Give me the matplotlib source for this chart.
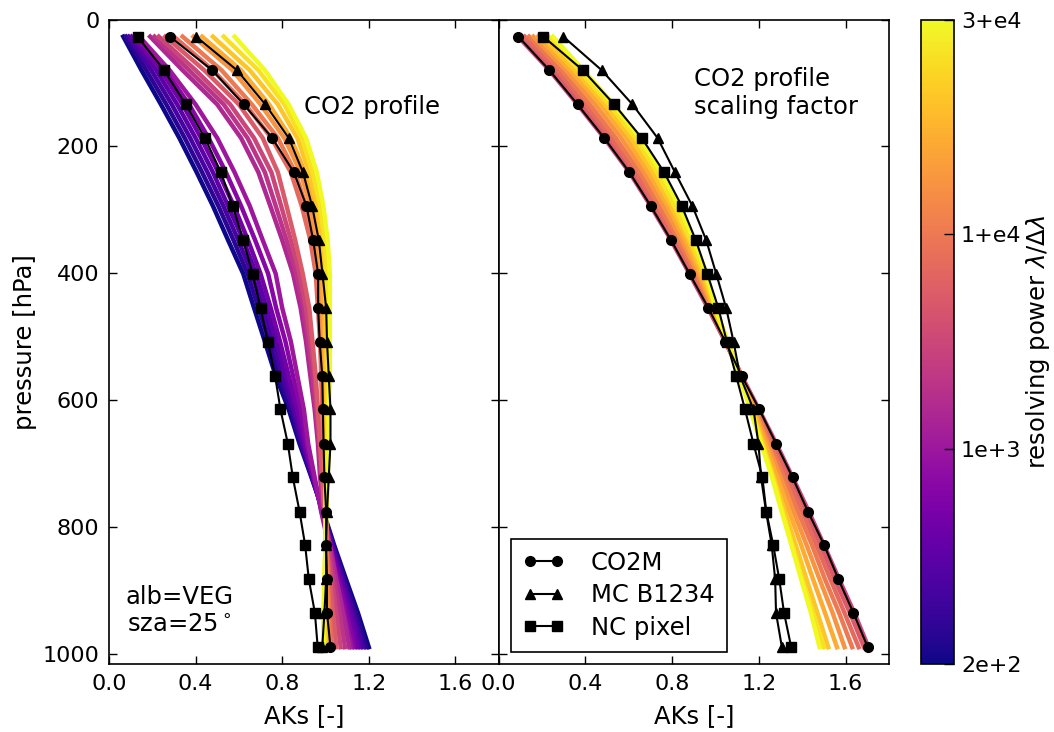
import numpy as np
import matplotlib
matplotlib.use("Agg")
import matplotlib.pyplot as plt
from matplotlib import cm, colors

# pressure levels [hPa] (layer centres)
pressure = [27, 80, 134, 187, 241, 294, 348, 401, 455, 508, 562, 615, 669, 722, 776, 829, 883, 936, 990]

# --- left panel: CO2 profile AKs for each resolving power ---
res_left = [200, 260, 340, 440, 580, 760, 1000, 1500, 2000, 3000, 5000,
            7000, 10000, 13000, 16000, 20000, 25000, 30000]
aks_left = [
    [0.066, 0.15, 0.24, 0.325, 0.405, 0.48, 0.55, 0.62, 0.67, 0.72, 0.77, 0.83, 0.88, 0.935, 0.99, 1.04, 1.095, 1.15, 1.20],
    [0.078, 0.172, 0.265, 0.35, 0.43, 0.505, 0.575, 0.64, 0.69, 0.74, 0.785, 0.84, 0.886, 0.937, 0.988, 1.036, 1.088, 1.14, 1.187],
    [0.09, 0.195, 0.29, 0.375, 0.455, 0.528, 0.597, 0.66, 0.71, 0.757, 0.80, 0.85, 0.892, 0.94, 0.986, 1.032, 1.08, 1.13, 1.173],
    [0.103, 0.218, 0.315, 0.40, 0.48, 0.55, 0.62, 0.68, 0.728, 0.773, 0.815, 0.86, 0.898, 0.942, 0.985, 1.028, 1.073, 1.12, 1.16],
    [0.115, 0.24, 0.34, 0.425, 0.505, 0.577, 0.642, 0.70, 0.747, 0.79, 0.83, 0.87, 0.905, 0.944, 0.984, 1.024, 1.066, 1.108, 1.147],
    [0.128, 0.26, 0.37, 0.46, 0.54, 0.61, 0.675, 0.735, 0.772, 0.815, 0.85, 0.885, 0.912, 0.947, 0.982, 1.02, 1.058, 1.097, 1.133],
    [0.14, 0.28, 0.40, 0.50, 0.58, 0.65, 0.71, 0.77, 0.80, 0.84, 0.87, 0.90, 0.92, 0.95, 0.98, 1.015, 1.05, 1.085, 1.12],
    [0.19, 0.34, 0.50, 0.61, 0.69, 0.745, 0.80, 0.85, 0.885, 0.91, 0.93, 0.95, 0.965, 0.975, 0.99, 1.02, 1.05, 1.08, 1.11],
    [0.21, 0.37, 0.53, 0.64, 0.72, 0.77, 0.82, 0.865, 0.90, 0.92, 0.94, 0.955, 0.97, 0.98, 0.995, 1.015, 1.04, 1.065, 1.09],
    [0.23, 0.40, 0.56, 0.67, 0.75, 0.795, 0.84, 0.88, 0.91, 0.93, 0.95, 0.96, 0.975, 0.985, 0.995, 1.01, 1.03, 1.05, 1.07],
    [0.26, 0.44, 0.60, 0.71, 0.78, 0.82, 0.86, 0.895, 0.925, 0.94, 0.955, 0.965, 0.975, 0.985, 0.995, 1.005, 1.02, 1.035, 1.05],
    [0.30, 0.48, 0.63, 0.75, 0.84, 0.89, 0.93, 0.955, 0.965, 0.975, 0.98, 0.985, 0.99, 0.995, 1.0, 1.005, 1.01, 1.02, 1.03],
    [0.34, 0.52, 0.66, 0.78, 0.86, 0.91, 0.945, 0.965, 0.975, 0.98, 0.985, 0.99, 0.995, 1.0, 1.0, 1.005, 1.01, 1.015, 1.02],
    [0.39, 0.57, 0.70, 0.81, 0.885, 0.93, 0.96, 0.975, 0.985, 0.99, 0.99, 0.995, 1.0, 1.0, 1.0, 1.0, 1.005, 1.01, 1.01],
    [0.43, 0.61, 0.74, 0.84, 0.905, 0.945, 0.97, 0.985, 0.99, 0.995, 1.0, 1.0, 1.0, 1.0, 1.0, 1.0, 1.0, 1.005, 1.005],
    [0.48, 0.65, 0.78, 0.87, 0.925, 0.96, 0.985, 0.995, 1.0, 1.0, 1.005, 1.005, 1.005, 1.0, 1.0, 1.0, 1.0, 1.0, 1.0],
    [0.53, 0.69, 0.81, 0.89, 0.94, 0.975, 0.995, 1.005, 1.01, 1.01, 1.01, 1.01, 1.01, 1.005, 1.0, 1.0, 0.995, 0.995, 0.995],
    [0.58, 0.72, 0.83, 0.91, 0.96, 0.99, 1.01, 1.02, 1.02, 1.02, 1.02, 1.015, 1.015, 1.01, 1.005, 1.0, 0.995, 0.99, 0.99],
]

# --- right panel: CO2 profile scaling factor AKs ---
res_right = [3000, 5000, 7000, 10000, 13000, 16000, 20000, 25000, 30000]
aks_right = [
    [0.09, 0.234, 0.364, 0.487, 0.603, 0.701, 0.795, 0.880, 0.965, 1.045, 1.12, 1.20, 1.28, 1.355, 1.43, 1.50, 1.57, 1.64, 1.705],
    [0.10, 0.25, 0.38, 0.50, 0.615, 0.71, 0.805, 0.89, 0.97, 1.045, 1.12, 1.195, 1.27, 1.345, 1.415, 1.485, 1.55, 1.62, 1.685],
    [0.12, 0.27, 0.40, 0.52, 0.63, 0.725, 0.815, 0.90, 0.975, 1.05, 1.12, 1.19, 1.26, 1.33, 1.40, 1.465, 1.53, 1.595, 1.66],
    [0.14, 0.29, 0.42, 0.54, 0.65, 0.74, 0.83, 0.91, 0.98, 1.05, 1.115, 1.185, 1.25, 1.315, 1.38, 1.445, 1.505, 1.57, 1.63],
    [0.16, 0.31, 0.445, 0.565, 0.67, 0.76, 0.845, 0.92, 0.985, 1.05, 1.115, 1.18, 1.24, 1.30, 1.36, 1.42, 1.48, 1.54, 1.595],
    [0.18, 0.33, 0.47, 0.59, 0.69, 0.78, 0.86, 0.93, 0.99, 1.055, 1.115, 1.175, 1.23, 1.285, 1.34, 1.395, 1.45, 1.505, 1.56],
    [0.20, 0.35, 0.49, 0.61, 0.71, 0.795, 0.875, 0.94, 0.995, 1.055, 1.11, 1.17, 1.22, 1.27, 1.32, 1.37, 1.42, 1.47, 1.52],
    [0.23, 0.37, 0.51, 0.63, 0.73, 0.81, 0.885, 0.95, 1.0, 1.055, 1.11, 1.165, 1.215, 1.265, 1.31, 1.355, 1.40, 1.45, 1.50],
    [0.25, 0.39, 0.53, 0.65, 0.75, 0.83, 0.90, 0.96, 1.0, 1.055, 1.11, 1.16, 1.21, 1.26, 1.305, 1.35, 1.395, 1.44, 1.48],
]

# reference instruments
co2m_left = [0.281, 0.477, 0.623, 0.754, 0.854, 0.912, 0.943, 0.966, 0.966, 0.973, 0.985, 0.988, 0.991, 0.995, 1.003, 1.003, 1.007, 1.007, 1.023]
mc_left = [0.403, 0.591, 0.722, 0.830, 0.896, 0.938, 0.969, 0.986, 1.003, 1.007, 1.015, 1.023, 1.023, 1.015, 1.007, 1.003, 1.003, 0.995, 0.985]
nc_left = [0.132, 0.254, 0.355, 0.443, 0.517, 0.571, 0.620, 0.663, 0.700, 0.734, 0.767, 0.792, 0.826, 0.849, 0.880, 0.906, 0.923, 0.951, 0.964]

co2m_right = [0.091, 0.234, 0.364, 0.487, 0.603, 0.701, 0.795, 0.880, 0.967, 1.045, 1.12, 1.202, 1.279, 1.355, 1.426, 1.501, 1.567, 1.636, 1.702]
mc_right = [0.298, 0.475, 0.617, 0.733, 0.813, 0.893, 0.957, 1.003, 1.049, 1.083, 1.113, 1.175, 1.198, 1.21, 1.233, 1.259, 1.275, 1.279, 1.306]
nc_right = [0.206, 0.388, 0.533, 0.660, 0.763, 0.844, 0.909, 0.962, 1.013, 1.052, 1.095, 1.136, 1.175, 1.216, 1.234, 1.266, 1.294, 1.316, 1.349]

cbar_ticks = [200, 1000, 10000, 30000]
cbar_labels = ["2e+2", "1e+3", "1+e4", "3+e4"]

FS_TICK = 16
FS = 17.5
plt.rcParams["font.family"] = "DejaVu Sans"
plt.rcParams["font.size"] = FS
plt.rcParams["mathtext.fontset"] = "dejavusans"

cmap = plt.get_cmap("plasma")
tick_pos = np.linspace(0, 1, len(cbar_ticks))


def res_to_frac(r):
    # colour scale position (piecewise log between the colorbar ticks)
    return np.interp(np.log10(r), np.log10(cbar_ticks), tick_pos)


W, H = 1054, 732
fig = plt.figure(figsize=(W / 100, H / 100), dpi=100)
top, bot = 19.5, 664.3
ax1 = fig.add_axes([109 / W, 1 - bot / H, 389.7 / W, (bot - top) / H])
ax2 = fig.add_axes([498.7 / W, 1 - bot / H, 390.3 / W, (bot - top) / H])
cax = fig.add_axes([921 / W, 1 - bot / H, 33 / W, (bot - top) / H])

for ax, res, aks in [(ax1, res_left, aks_left), (ax2, res_right, aks_right)]:
    for r, prof in zip(res, aks):
        ax.plot(prof, pressure, color=cmap(res_to_frac(r)), lw=3.2, zorder=1)

for ax, co2m, mc, nc in [(ax1, co2m_left, mc_left, nc_left),
                         (ax2, co2m_right, mc_right, nc_right)]:
    ax.plot(co2m, pressure, "k-", marker="o", ms=7, lw=1.5, label="CO2M", zorder=3)
    ax.plot(mc, pressure, "k-", marker="^", ms=7.5, lw=1.5, label="MC B1234", zorder=3)
    ax.plot(nc, pressure, "k-", marker="s", ms=7, lw=1.5, label="NC pixel", zorder=3)

for ax in (ax1, ax2):
    ax.set_xlim(0, 1.8)
    ax.set_ylim(1017, 0)
    ax.set_xticks([0.0, 0.4, 0.8, 1.2, 1.6])
    ax.set_yticks([0, 200, 400, 600, 800, 1000])
    ax.tick_params(direction="in", length=6, width=1, top=True, right=True,
                   labelsize=FS_TICK, pad=7)
    ax.set_xlabel("AKs [-]", fontsize=FS, labelpad=7)
    for s in ax.spines.values():
        s.set_linewidth(1.2)

ax2.tick_params(labelleft=False)
ax1.set_ylabel("pressure [hPa]", fontsize=FS, labelpad=4)

ax1.text(0.90, 138, "CO2 profile", fontsize=FS, va="center", ha="left")
ax2.text(0.90, 116, "CO2 profile\nscaling factor", fontsize=FS, va="center", ha="left")
ax1.text(0.324, 933, "alb=VEG\nsza=25$^\\circ$", fontsize=FS, va="center", ha="center",
         multialignment="center")

leg = ax2.legend(loc="lower left", bbox_to_anchor=(0.031, 0.019), borderaxespad=0,
                 numpoints=2, handlelength=1.7, handletextpad=1.1, fontsize=FS,
                 fancybox=False, framealpha=1, edgecolor="k", labelspacing=0.35,
                 borderpad=0.5)
leg.get_frame().set_linewidth(1.2)

sm = cm.ScalarMappable(norm=colors.Normalize(0, 1), cmap=cmap)
cb = fig.colorbar(sm, cax=cax, ticks=tick_pos)
cb.set_ticklabels(cbar_labels)
cb.outline.set_linewidth(1.2)
cax.tick_params(direction="in", length=7, width=1, labelsize=FS_TICK, pad=5)
cb.set_label("resolving power $\\lambda/\\Delta\\lambda$", fontsize=FS, labelpad=2)

fig.savefig("out.png", dpi=100)
